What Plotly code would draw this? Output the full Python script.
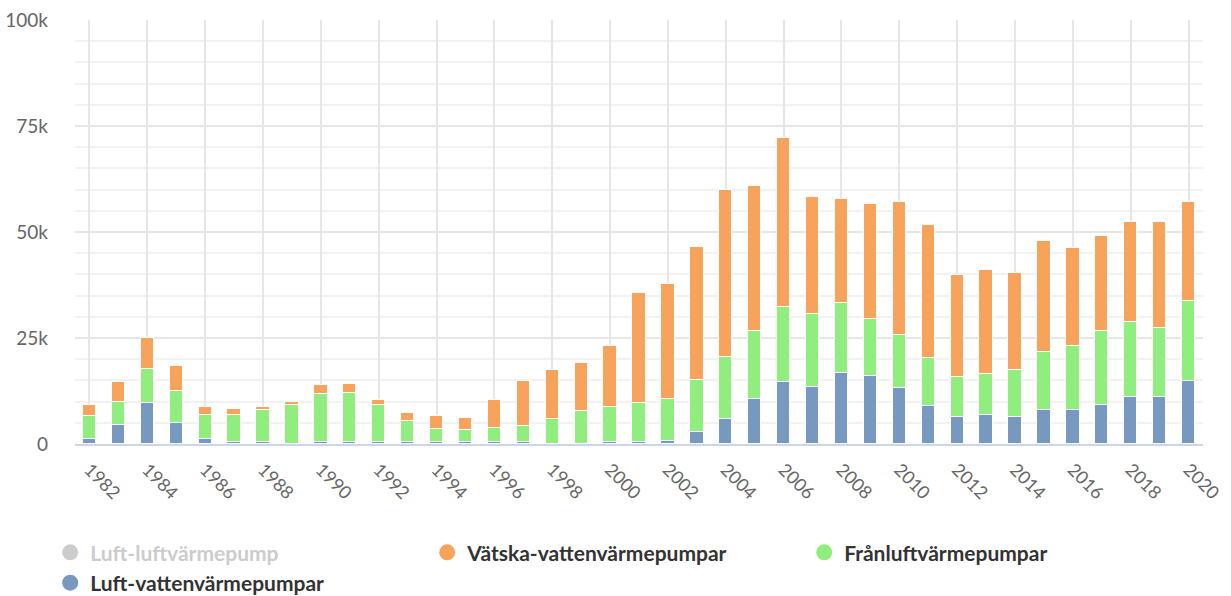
import plotly.graph_objects as go

years = list(range(1982, 2021))

luft_vatten = [1100, 4500, 9600, 5000, 1200, 400, 400, 0, 400, 400, 400, 400, 500, 500, 500, 500,
               0, 0, 500, 500, 800, 2900, 5900, 10500, 14700, 13400, 16700, 16000, 13100, 8900,
               6400, 6800, 6400, 8100, 8100, 9300, 11000, 11000, 14800]
franluft = [5600, 5500, 8000, 7600, 5600, 6400, 7600, 9200, 11300, 11700, 8800, 5000, 3100, 2800,
            3200, 3700, 5800, 7900, 8300, 9100, 9700, 12300, 14700, 16100, 17600, 17300, 16600,
            13500, 12700, 11400, 9300, 9700, 11000, 13500, 15100, 17400, 17700, 16400, 18900]
vatska_vatten = [2400, 4600, 7500, 5700, 1900, 1500, 800, 800, 2100, 2100, 1200, 2000, 3000, 2900,
                 6700, 10700, 11700, 11300, 14200, 25900, 27200, 31300, 39400, 34200, 39900, 27600,
                 24600, 27100, 31300, 31300, 24100, 24500, 22900, 26200, 23000, 22400, 23700, 25000,
                 23300]
luft_luft = []  # series hidden in the reference (legend only)

series_names = ["Luft-luftvärmepump", "Vätska-vattenvärmepumpar",
                "Frånluftvärmepumpar", "Luft-vattenvärmepumpar"]
colors = {"Luft-luftvärmepump": "#cccccc", "Vätska-vattenvärmepumpar": "#f7a35c",
          "Frånluftvärmepumpar": "#90ee7e", "Luft-vattenvärmepumpar": "#7798bf"}

y_tickvals = [0, 25000, 50000, 75000, 100000]
y_ticktext = ["0", "25k", "50k", "75k", "100k"]
x_tickvals = list(range(1982, 2021, 2))

FONT = "Lato, Roboto, sans-serif"

fig = go.Figure()

# stacked bars (bottom first)
for name, vals in [("Luft-vattenvärmepumpar", luft_vatten),
                   ("Frånluftvärmepumpar", franluft),
                   ("Vätska-vattenvärmepumpar", vatska_vatten)]:
    fig.add_trace(go.Bar(
        x=years, y=vals, name=name, legendgroup=name, showlegend=False,
        marker=dict(color=colors[name], line=dict(color="#ffffff", width=1)),
        width=0.46,
    ))

fig.add_trace(go.Bar(x=years[:len(luft_luft)], y=luft_luft, name=series_names[0],
                     legendgroup=series_names[0], showlegend=False,
                     marker=dict(color=colors[series_names[0]])))

# legend entries with round symbols
for rank, name in enumerate(series_names):
    label = name if rank != 0 else "<span style='color:#cccccc'>%s</span>" % name
    fig.add_trace(go.Scatter(
        x=[None], y=[None], mode="markers", name=label, legendgroup=name,
        legendrank=rank + 1,
        marker=dict(symbol="circle", size=16, color=colors[name]),
        hoverinfo="skip",
    ))

fig.update_layout(
    width=1231, height=596,
    margin=dict(l=75, r=28, t=20, b=152, autoexpand=False),
    paper_bgcolor="#ffffff", plot_bgcolor="#ffffff",
    barmode="stack", bargap=0,
    font=dict(family=FONT, color="#666666", size=18),
    showlegend=True,
    legend=dict(
        orientation="h", x=-0.022, xanchor="left", y=-0.208, yanchor="top",
        entrywidth=332, entrywidthmode="pixels", traceorder="normal",
        font=dict(family=FONT, size=21, color="#333333", weight="bold"),
        itemclick="toggle", bgcolor="rgba(0,0,0,0)",
    ),
    xaxis=dict(
        range=[1981.5, 2020.5], tickmode="array", tickvals=x_tickvals,
        tickangle=45, showgrid=True, gridcolor="#e6e6e6", gridwidth=2,
        showline=True, linecolor="#ccd6eb", linewidth=2, ticks="",
        zeroline=False, tickfont=dict(size=18, color="#666666"),
        ticklabelstandoff=6, automargin=False,
    ),
    yaxis=dict(
        range=[0, 100000], tickmode="array", tickvals=y_tickvals, ticktext=y_ticktext,
        showgrid=True, gridcolor="#e6e6e6", gridwidth=2, zeroline=False,
        ticks="", ticklabelstandoff=26, tickfont=dict(size=19, color="#666666"),
        automargin=False,
        minor=dict(tickmode="linear", dtick=5000, showgrid=True, gridcolor="#f2f2f2", gridwidth=2),
    ),
)

fig.write_html("out.html", config={"displayModeBar": False},
               post_script="document.body.style.margin='0';document.body.style.overflow='hidden';")
